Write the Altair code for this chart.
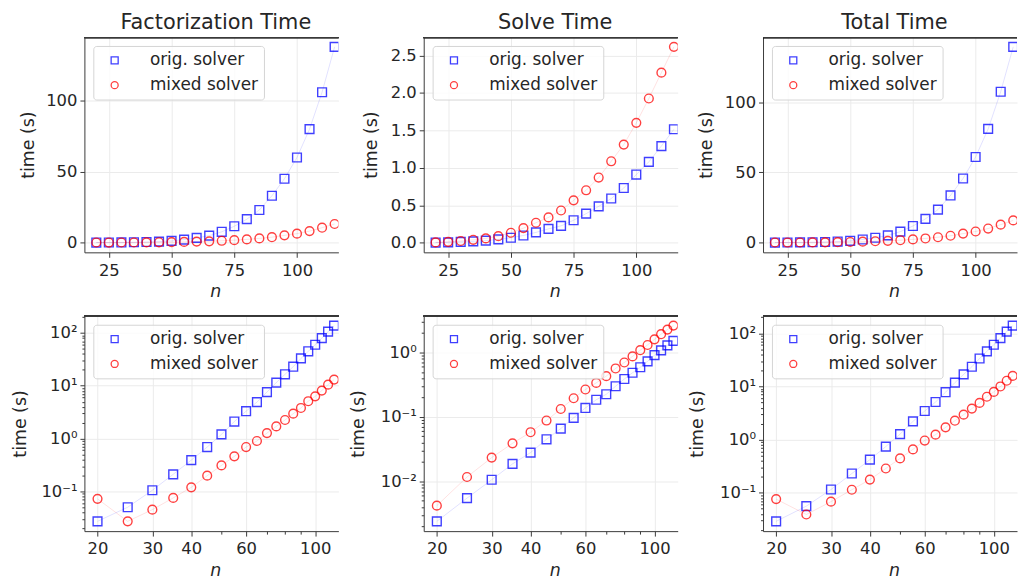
import altair as alt
import pandas as pd
import math

# ---------------- data ----------------
n_values = [20, 25, 30, 35, 40, 45, 50, 55, 60, 65, 70, 75, 80, 85, 90, 95, 100, 105, 110, 115]
series_names = ["orig. solver", "mixed solver"]

fact_orig = [0.027, 0.050, 0.105, 0.21, 0.39, 0.69, 1.2, 2.1, 3.3, 4.9, 7.6, 11.5, 16.5,
             23.0, 33.0, 45.0, 60.0, 80.0, 106.0, 138.0]
fact_mixed = [0.072, 0.027, 0.045, 0.075, 0.119, 0.198, 0.31, 0.46, 0.69, 0.90, 1.27, 1.7,
              2.25, 2.96, 3.8, 5.1, 6.3, 8.1, 10.5, 13.1]
solve_orig = [0.0024, 0.0055, 0.0106, 0.0187, 0.028, 0.045, 0.066, 0.097, 0.138, 0.185,
              0.225, 0.30, 0.388, 0.485, 0.59, 0.73, 0.91, 1.08, 1.29, 1.515]
solve_mixed = [0.0042, 0.0117, 0.0234, 0.039, 0.058, 0.088, 0.133, 0.195, 0.267, 0.338,
               0.43, 0.566, 0.70, 0.87, 1.087, 1.31, 1.60, 1.925, 2.27, 2.615]
total_orig = [0.029, 0.056, 0.115, 0.23, 0.42, 0.74, 1.27, 2.2, 3.45, 5.1, 7.8, 11.8, 16.9,
              23.5, 33.6, 45.7, 61.0, 81.0, 107.5, 139.5]
total_mixed = [0.076, 0.039, 0.068, 0.114, 0.177, 0.286, 0.443, 0.655, 0.96, 1.24, 1.7, 2.27,
               2.95, 3.83, 4.9, 6.4, 7.9, 10.0, 12.8, 15.8]

titles = ["Factorization Time", "Solve Time", "Total Time"]
lin_yticks = [[0, 50, 100], [0, 0.5, 1.0, 1.5, 2.0, 2.5], [0, 50, 100]]
lin_xticks = [25, 50, 75, 100]
log_xticks = [20, 30, 40, 50, 60, 70, 80, 90, 100]

# ---------------- styling ----------------
W, H = 256, 217
FONT = "DejaVu Sans"
TXT = "#262626"
FRAME = "#3a3a3a"
colors = ["#0000ff", "#ff0000"]
shapes = ["square", "circle"]

MAJOR = "abs(log(datum.value)/LN10 - round(log(datum.value)/LN10)) < 0.001"
SUP = ("(" + MAJOR + ") ? '10' + replace(replace(replace(replace(replace(''+round(log(datum.value)/LN10),"
       "'-','\u207b'),'0','\u2070'),'1','\u00b9'),'2','\u00b2'),'3','\u00b3') : ''")
XLAB = "indexof([20,30,40,60,100], datum.value) >= 0"


def log_minor_values(lo, hi):
    vals = []
    for e in range(math.floor(math.log10(lo)), math.ceil(math.log10(hi)) + 1):
        for m in range(1, 10):
            v = m * 10 ** e
            if lo <= v <= hi:
                vals.append(round(v, 6))
    return vals


def panel(idx, orig, mixed, log, ytitle_x, title=None):
    df = pd.DataFrame({
        "n": n_values + n_values,
        "time": orig + mixed,
        "series": [series_names[0]] * len(n_values) + [series_names[1]] * len(n_values),
    })
    vals = orig + mixed
    if log:
        lo, hi = math.log10(min(vals)), math.log10(max(vals))
        m = 0.05 * (hi - lo)
        ydom = [10 ** (lo - m), 10 ** (hi + m)]
        yscale = alt.Scale(type="log", domain=ydom, nice=False)
        yaxis = alt.Axis(
            values=log_minor_values(ydom[0], ydom[1]), labelExpr=SUP,
            tickSize={"condition": {"test": MAJOR, "value": 4.5}, "value": 2.5},
            gridOpacity={"condition": {"test": MAJOR, "value": 1}, "value": 0},
            title="time (s)", titleX=ytitle_x, titleY=H / 2, titleAngle=270,
            titleAlign="center", titleBaseline="middle", labelOverlap=False,
        )
        xscale = alt.Scale(type="log", domain=[18.15, 118.7], nice=False)
        xaxis = alt.Axis(
            values=log_xticks,
            labelExpr="(" + XLAB + ") ? format(datum.value, 'd') : ''",
            tickSize={"condition": {"test": XLAB, "value": 5}, "value": 3},
            gridOpacity={"condition": {"test": XLAB, "value": 1}, "value": 0},
            title="n", labelOverlap=False, labelFlush=False,
        )
    else:
        lo, hi = min(vals), max(vals)
        m = 0.05 * (hi - lo)
        yscale = alt.Scale(domain=[lo - m, hi + m], nice=False, zero=False)
        yaxis = alt.Axis(
            values=lin_yticks[idx], format=".1f" if idx == 1 else "d", tickSize=4.5,
            title="time (s)", titleX=ytitle_x, titleY=H / 2, titleAngle=270,
            titleAlign="center", titleBaseline="middle", labelOverlap=False,
        )
        xscale = alt.Scale(domain=[15.25, 116.5], nice=False, zero=False)
        xaxis = alt.Axis(values=lin_xticks, format="d", tickSize=5, title="n",
                         labelOverlap=False, labelFlush=False)

    x = alt.X("n:Q", scale=xscale, axis=xaxis)
    y = alt.Y("time:Q", scale=yscale, axis=yaxis)
    cscale = alt.Scale(domain=series_names, range=colors)
    legend = alt.Legend(title=None, orient="top-left")

    line = alt.Chart(df).mark_line(strokeWidth=1, opacity=0.12, clip=True).encode(
        x=x, y=y, color=alt.Color("series:N", scale=cscale, legend=legend),
    )
    pts = alt.Chart(df).mark_point(filled=False, strokeWidth=1.4, opacity=0.75, size=78, clip=True).encode(
        x=x, y=y,
        color=alt.Color("series:N", scale=cscale, legend=legend),
        shape=alt.Shape("series:N", scale=alt.Scale(domain=series_names, range=shapes), legend=legend),
    )
    top = alt.Chart(df).mark_rule(color=FRAME, strokeWidth=1).encode(
        y=alt.value(0.5), x=alt.value(0), x2=alt.value(W)
    )
    props = dict(width=W, height=H)
    if title:
        props["title"] = alt.TitleParams(title, fontSize=21, font=FONT, fontWeight="normal",
                                         color=TXT, anchor="middle", dx=4.5, offset=-13,
                                         baseline="alphabetic", frame="group")
    return alt.layer(line, pts, top).properties(**props)


panels = [
    panel(0, fact_orig, fact_mixed, False, -56, titles[0]),
    panel(1, solve_orig, solve_mixed, False, -53, titles[1]),
    panel(2, total_orig, total_mixed, False, -57, titles[2]),
    panel(0, fact_orig, fact_mixed, True, -64),
    panel(1, solve_orig, solve_mixed, True, -66),
    panel(2, total_orig, total_mixed, True, -66),
]

chart = alt.concat(*panels, columns=3, spacing={"row": 64, "column": 86}, bounds="flush").resolve_scale(
    x="independent", y="independent", color="independent", shape="independent"
).resolve_legend(color="independent", shape="independent").properties(
    padding={"left": 4, "top": 2, "right": 0, "bottom": 0}
).configure_view(stroke=None).configure_axis(
    labelFont=FONT, labelFontSize=16.5, labelColor=TXT, labelPadding=3,
    titleFont=FONT, titleFontSize=17.5, titleFontWeight="normal", titleColor=TXT,
    tickColor=FRAME, domainColor=FRAME, domainWidth=1, tickWidth=1,
    gridColor="#ebebeb", gridWidth=1,
).configure_axisX(
    labelPadding=5, titleFontStyle="italic", titleX=132, titleY=45, titleBaseline="alphabetic",
).configure_legend(
    offset=9, padding=6, fillColor="rgba(255,255,255,0.8)",
    strokeColor="#d5d5d5", cornerRadius=3, labelFont=FONT, labelFontSize=17,
    labelColor=TXT, symbolSize=50, symbolStrokeWidth=1.3, symbolOpacity=0.75,
    symbolOffset=7, labelOffset=27, rowPadding=7,
)

chart.save("out.html", embed_options={"renderer": "svg", "actions": False})
